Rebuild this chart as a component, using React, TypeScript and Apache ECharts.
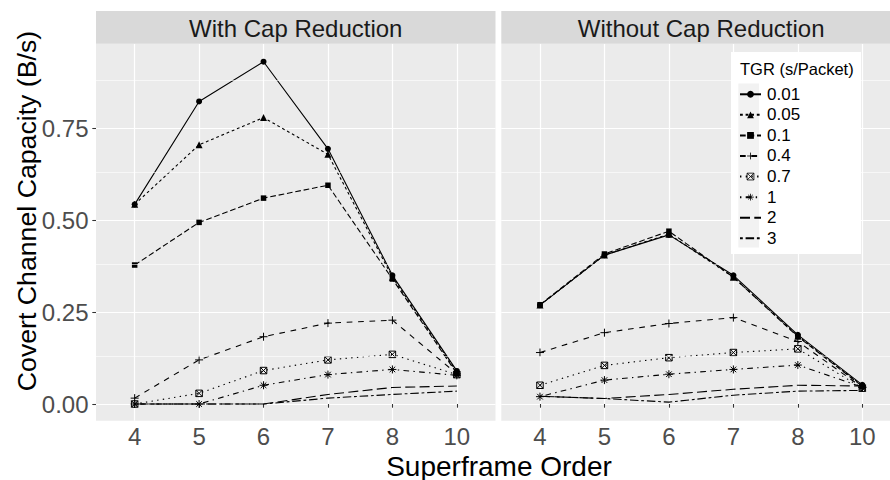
import React, { useEffect, useRef } from 'react';
import * as echarts from 'echarts';

// ---- data ----
const categories = ['4', '5', '6', '7', '8', '10'];
const tgrLevels = ['0.01', '0.05', '0.1', '0.4', '0.7', '1', '2', '3'];
const panelTitles = ['With Cap Reduction', 'Without Cap Reduction'];
const yTickValues = [0, 0.25, 0.5, 0.75];
const yMinorValues = [0.125, 0.375, 0.625, 0.875];
const xTitle = 'Superframe Order';
const yTitle = 'Covert Channel Capacity (B/s)';
const legendTitle = 'TGR (s/Packet)';

// With Cap Reduction
const with001 = [0.543, 0.823, 0.931, 0.694, 0.35, 0.09];
const with005 = [0.543, 0.705, 0.779, 0.679, 0.345, 0.087];
const with01 = [0.378, 0.494, 0.56, 0.595, 0.34, 0.083];
const with04 = [0.016, 0.12, 0.183, 0.22, 0.228, 0.082];
const with07 = [0, 0.029, 0.091, 0.12, 0.135, 0.08];
const with1 = [0, 0, 0.051, 0.08, 0.094, 0.078];
const with2 = [0, 0, 0, 0.026, 0.045, 0.049];
const with3 = [0, 0, 0, 0.016, 0.026, 0.035];

// Without Cap Reduction
const without001 = [0.269, 0.405, 0.46, 0.35, 0.188, 0.052];
const without005 = [0.269, 0.405, 0.462, 0.345, 0.185, 0.05];
const without01 = [0.27, 0.408, 0.47, 0.345, 0.183, 0.048];
const without04 = [0.14, 0.194, 0.219, 0.235, 0.17, 0.045];
const without07 = [0.051, 0.105, 0.126, 0.14, 0.15, 0.043];
const without1 = [0.02, 0.065, 0.081, 0.094, 0.106, 0.046];
const without2 = [0.021, 0.015, 0.026, 0.04, 0.051, 0.049];
const without3 = [0.021, 0.015, 0.005, 0.024, 0.035, 0.037];

const panels = [
  [with001, with005, with01, with04, with07, with1, with2, with3],
  [without001, without005, without01, without04, without07, without1, without2, without3],
];

// ---- styles ----
const FONT = '"Liberation Sans", Arial, sans-serif';
const PLUS = 'path://M5 0V10M0 5H10';
const SQX = 'path://M0 0H10V10H0Z M0 0L10 10M10 0L0 10';
const AST = 'path://M5 0V10M0 5H10M1.5 1.5L8.5 8.5M8.5 1.5L1.5 8.5';

const levelStyles: any[] = [
  { dash: 'solid', symbol: 'circle', size: 6, stroke: false },
  { dash: [2.8, 2.8], symbol: 'triangle', size: 7, stroke: false },
  { dash: [5.7, 2.8], symbol: 'rect', size: 5.5, stroke: false },
  { dash: [5.7, 5.7], symbol: PLUS, size: 8, stroke: true },
  { dash: [1.4, 4.3], symbol: SQX, size: 6.5, stroke: true },
  { dash: [1.4, 4.3, 5.7, 4.3], symbol: AST, size: 8, stroke: true },
  { dash: [10, 4.3], symbol: 'none', size: 0, stroke: false },
  { dash: [2.8, 2.8, 8.5, 2.8], symbol: 'none', size: 0, stroke: false },
];

const CHART_W = 904;
const CHART_H = 480;

const gridDefs = [
  { left: 96, top: 43.7, width: 399.5, height: 377 },
  { left: 501.3, top: 43.7, width: 399.7, height: 377 },
];

const xTickIdx = categories.map((_, i) => i + 1);

export default function App() {
  const ref = useRef<HTMLDivElement>(null);

  useEffect(() => {
    if (!ref.current) return;
    const chart = echarts.init(ref.current, null, { renderer: 'svg' });

    const series: any[] = [];
    panels.forEach((panel, p) => {
      series.push({
        type: 'line',
        name: '__minor' + p,
        xAxisIndex: p,
        yAxisIndex: p,
        data: [],
        silent: true,
        z: 1,
        markLine: {
          silent: true,
          animation: false,
          symbol: ['none', 'none'],
          label: { show: false },
          lineStyle: { color: '#ffffff', width: 0.6, type: 'solid' },
          emphasis: { disabled: true },
          data: yMinorValues.map((v) => ({ yAxis: v })),
        },
      });
      panel.forEach((vals, i) => {
        const st = levelStyles[i];
        series.push({
          type: 'line',
          name: tgrLevels[i],
          xAxisIndex: p,
          yAxisIndex: p,
          data: vals.map((v, k) => [k + 1, v]),
          symbol: st.symbol,
          symbolSize: st.size,
          showSymbol: st.symbol !== 'none',
          silent: true,
          z: 2,
          lineStyle: { color: '#000000', width: 1.1, type: st.dash },
          itemStyle: st.stroke
            ? { color: 'none', borderColor: '#000000', borderWidth: 1 }
            : { color: '#000000', borderWidth: 0 },
          emphasis: { disabled: true },
        });
      });
    });

    const graphics: any[] = [];
    gridDefs.forEach((g, p) => {
      graphics.push({
        type: 'rect',
        shape: { x: g.left, y: 11, width: g.width, height: 32.7 },
        style: { fill: '#D9D9D9' },
        z: 5,
      });
      graphics.push({
        type: 'text',
        x: g.left + g.width / 2,
        y: 28,
        style: {
          text: panelTitles[p],
          fontSize: 24,
          fontFamily: FONT,
          fill: '#1A1A1A',
          align: 'center',
          verticalAlign: 'middle',
        },
        z: 6,
      });
    });
    graphics.push({
      type: 'text',
      x: 499,
      y: 466,
      style: {
        text: xTitle,
        fontSize: 28,
        lineHeight: 26,
        fontFamily: FONT,
        fill: '#000',
        align: 'center',
        verticalAlign: 'middle',
      },
    });
    graphics.push({
      type: 'text',
      x: 26.5,
      y: 211,
      rotation: Math.PI / 2,
      style: { text: yTitle, fontSize: 26.7, fontFamily: FONT, fill: '#000', align: 'center', verticalAlign: 'middle' },
    });
    // legend box
    graphics.push({
      type: 'rect',
      shape: { x: 731, y: 52, width: 130, height: 202 },
      style: { fill: '#ffffff' },
      z: 10,
    });
    graphics.push({
      type: 'rect',
      shape: { x: 738.3, y: 83.5, width: 20.7, height: 164 },
      style: { fill: '#F2F2F2' },
      z: 11,
    });
    graphics.push({
      type: 'text',
      x: 740,
      y: 69.3,
      style: { text: legendTitle, fontSize: 16.5, fontFamily: FONT, fill: '#000', align: 'left', verticalAlign: 'middle' },
      z: 12,
    });

    const legendData = tgrLevels.map((name, i) => {
      const st = levelStyles[i];
      if (st.symbol === 'none') return { name, itemStyle: { color: 'none', borderWidth: 0, opacity: 0 } };
      if (st.stroke) return { name, itemStyle: { color: 'none', borderColor: '#000000', borderWidth: 0.8 } };
      return { name };
    });

    const option: any = {
      animation: false,
      backgroundColor: '#ffffff',
      grid: gridDefs.map((g) => ({
        ...g,
        show: true,
        backgroundColor: '#EBEBEB',
        borderWidth: 0,
        borderColor: 'transparent',
        containLabel: false,
      })),
      xAxis: gridDefs.map((_, p) => ({
        type: 'value',
        gridIndex: p,
        min: 0.4,
        max: 6.6,
        axisLine: { show: false },
        axisTick: {
          show: true,
          customValues: xTickIdx,
          length: 3.7,
          lineStyle: { color: '#333333', width: 1.07 },
        },
        axisLabel: {
          customValues: xTickIdx,
          formatter: (v: number) => categories[Math.round(v) - 1] ?? '',
          fontSize: 24,
          fontFamily: FONT,
          color: '#4D4D4D',
          margin: 4,
        },
        splitLine: { show: true, lineStyle: { color: '#ffffff', width: 1.2 } },
      })),
      yAxis: gridDefs.map((_, p) => ({
        type: 'value',
        gridIndex: p,
        min: -0.0454,
        max: 0.98,
        axisLine: { show: false },
        axisTick: {
          show: p === 0,
          customValues: yTickValues,
          length: 3.7,
          lineStyle: { color: '#333333', width: 1.07 },
        },
        axisLabel: {
          show: p === 0,
          customValues: yTickValues,
          formatter: (v: number) => v.toFixed(2),
          fontSize: 24,
          fontFamily: FONT,
          color: '#4D4D4D',
          margin: 7.5,
        },
        splitLine: { show: true, lineStyle: { color: '#ffffff', width: 1.2 } },
      })),
      legend: {
        show: true,
        data: legendData,
        orient: 'vertical',
        left: 739,
        top: 84,
        itemWidth: 21,
        itemHeight: 8.5,
        itemGap: 0,
        padding: 0,
        selectedMode: false,
        z: 20,
        textStyle: { fontSize: 17, lineHeight: 20.57, fontFamily: FONT, color: '#000000', padding: [0, 0, 0, 1] },
      },
      graphic: graphics,
      series,
    };

    chart.setOption(option);
    return () => chart.dispose();
  }, []);

  return (
    <div style={{ position: 'absolute', left: 0, top: 0, width: 890, height: 480, overflow: 'hidden', background: '#fff' }}>
      <div ref={ref} style={{ width: CHART_W, height: CHART_H }} />
    </div>
  );
}
